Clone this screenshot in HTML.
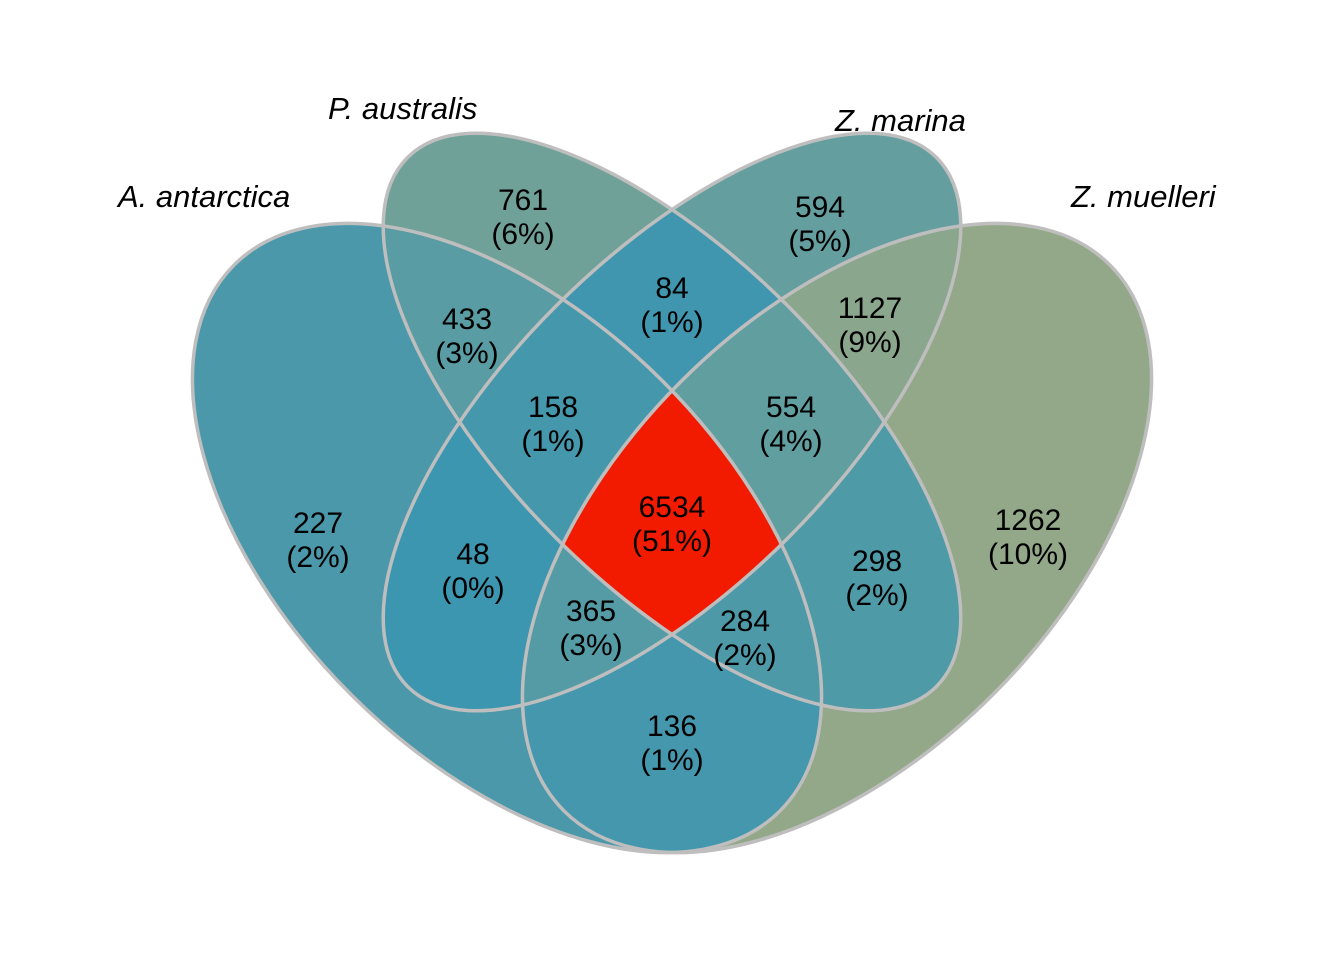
<!DOCTYPE html>
<html><head><meta charset="utf-8"><style>
html,body{margin:0;padding:0;background:#fff}
svg{display:block}
text{font-family:"Liberation Sans",Arial,sans-serif;fill:#000}
</style></head><body>
<svg id="chart" width="1344" height="960" viewBox="0 0 1344 960" xmlns="http://www.w3.org/2000/svg">
<defs id="defs"></defs>
<g id="regions"></g>
<g id="outlines"></g>
<g id="labels"></g>
<g id="setlabels">
<text x="118" y="207" font-size="31" font-style="italic">A. antarctica</text>
<text x="328" y="119" font-size="31" font-style="italic">P. australis</text>
<text x="835" y="131" font-size="31" font-style="italic">Z. marina</text>
<text x="1071" y="207" font-size="31" font-style="italic">Z. muelleri</text>
</g>
</svg>
<script>
// data
const setNames = ["A. antarctica","P. australis","Z. marina","Z. muelleri"];
const regionSets = ["A","B","C","D","AB","BC","CD","AC","BD","AD","ABC","BCD","ACD","ABD","ABCD"];
const regionCounts = [227,761,594,1262,433,84,1127,48,298,136,158,554,365,284,6534];
// layout (label anchor positions per region)
const labelPos = [[318,540],[523,217],[820,224],[1028,537],[467,336],[672,305],[870,325],[473,571],[877,578],[672,743],[553,424],[791,424],[591,628],[745,638],[672,524]];
const ellipses = {A:{cx:507,cy:538,rx:386,ry:221,rot:45},B:{cx:672,cy:422,rx:374,ry:164,rot:45},C:{cx:672,cy:422,rx:374,ry:164,rot:-45},D:{cx:837,cy:538,rx:386,ry:221,rot:-45}};
const NS="http://www.w3.org/2000/svg";
const defs=document.getElementById('defs');
function ell(k){const e=ellipses[k];const el=document.createElementNS(NS,'ellipse');
 el.setAttribute('cx',e.cx);el.setAttribute('cy',e.cy);el.setAttribute('rx',e.rx);el.setAttribute('ry',e.ry);
 el.setAttribute('transform',`rotate(${e.rot} ${e.cx} ${e.cy})`);return el;}
["A","B","C","D"].forEach(k=>{const cp=document.createElementNS(NS,'clipPath');cp.setAttribute('id','clip'+k);cp.appendChild(ell(k));defs.appendChild(cp);});
const total=regionCounts.reduce((a,b)=>a+b,0);
function mix(c1,c2,t){return c1.map((v,i)=>Math.round(v+(c2[i]-v)*t));}
function colorFor(v){const lo=[58,149,177],mid=[150,169,135],hi=[242,27,0];
 let c; if(v<=1300){c=mix(lo,mid,v/1300);}else{c=mix(mid,hi,Math.min(1,(v-1300)/(6534-1300)));}
 if(v>=6000)c=hi; return `rgb(${c[0]},${c[1]},${c[2]})`;}
const regG=document.getElementById('regions');
const labG=document.getElementById('labels');
regionSets.forEach((s,i)=>{
 const mask=document.createElementNS(NS,'mask');mask.setAttribute('id','mask'+i);
 const r=document.createElementNS(NS,'rect');r.setAttribute('width',1344);r.setAttribute('height',960);r.setAttribute('fill','#fff');mask.appendChild(r);
 ["A","B","C","D"].forEach(k=>{if(!s.includes(k)){const e=ell(k);e.setAttribute('fill','#000');mask.appendChild(e);}});
 defs.appendChild(mask);
 let parent=regG;
 s.split('').forEach(k=>{const g=document.createElementNS(NS,'g');g.setAttribute('clip-path',`url(#clip${k})`);parent.appendChild(g);parent=g;});
 const rect=document.createElementNS(NS,'rect');
 
 
 rect.setAttribute('width',1344);rect.setAttribute('height',960);
 rect.setAttribute('fill',colorFor(regionCounts[i]));rect.setAttribute('mask',`url(#mask${i})`);
 parent.appendChild(rect);
 const [x,y]=labelPos[i];
 const t1=document.createElementNS(NS,'text');
 
 
 t1.setAttribute('x',x);t1.setAttribute('y',y-7);t1.setAttribute('font-size','30');t1.setAttribute('text-anchor','middle');
 t1.textContent=regionCounts[i];labG.appendChild(t1);
 const t2=document.createElementNS(NS,'text');
 
 
 t2.setAttribute('x',x);t2.setAttribute('y',y+27);t2.setAttribute('font-size','30');t2.setAttribute('text-anchor','middle');
 t2.textContent='('+Math.round(regionCounts[i]/total*100)+'%)';labG.appendChild(t2);
});
const outG=document.getElementById('outlines');
["A","B","C","D"].forEach(k=>{const e=ell(k);
 
 
 e.setAttribute('fill','none');e.setAttribute('stroke','#bebebe');e.setAttribute('stroke-width','3.5');outG.appendChild(e);});
</script>
</body></html>
